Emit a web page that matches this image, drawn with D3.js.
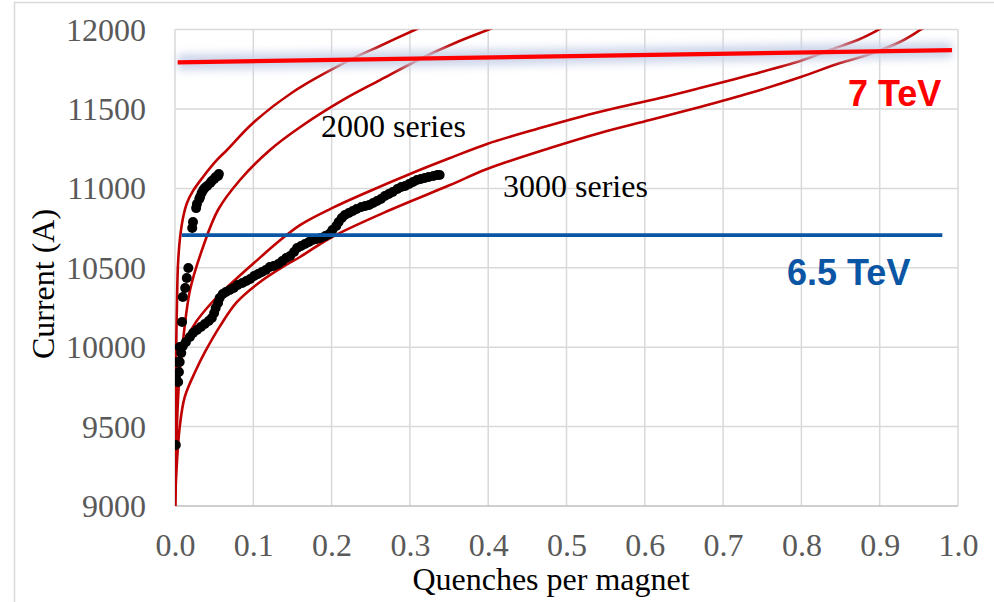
<!DOCTYPE html>
<meta charset="utf-8">
<style>
body { margin: 0; background: #fff; }
.tick text { font-family: "Liberation Serif", "Times New Roman", serif; font-size: 32px; fill: #595959; }
.title { font-family: "Liberation Serif", "Times New Roman", serif; font-size: 32px; fill: #000; }
.tev { font-family: "Liberation Sans", Arial, sans-serif; font-size: 36px; font-weight: bold; }
</style>
<body>
<script src="https://d3js.org/d3.v7.min.js"></script>
<script>
var width = 994, height = 602;
var margin = {left: 175, right: 36, top: 29.6, bottom: 96};

var xTicks = [0, 0.1, 0.2, 0.3, 0.4, 0.5, 0.6, 0.7, 0.8, 0.9, 1.0];
var yTicks = [9000, 9500, 10000, 10500, 11000, 11500, 12000];

// fitted curves, 2000 series (upper / lower)
var fit2000aX = [0, 0.0004, 0.0009, 0.0015, 0.0026, 0.0038, 0.0064, 0.0102, 0.0153, 0.0230, 0.0358, 0.0536, 0.0664, 0.0996, 0.1507, 0.2235, 0.2618, 0.3087, 0.33];
var fit2000aY = [9000, 9353, 9667, 9982, 10297, 10518, 10688, 10814, 10908, 10984, 11072, 11179, 11242, 11412, 11607, 11809, 11897, 12004, 12050];
var fit2000bX = [0, 0.0019, 0.0038, 0.0064, 0.0089, 0.0192, 0.0358, 0.0549, 0.0830, 0.1213, 0.1596, 0.2146, 0.2618, 0.3129, 0.3576, 0.4023, 0.42];
var fit2000bY = [9000, 9416, 9667, 9875, 9982, 10360, 10631, 10864, 11053, 11242, 11385, 11557, 11682, 11815, 11916, 12004, 12040];

// fitted curves, 3000 series (upper / lower)
var fit3000aX = [0, 0.0006, 0.0019, 0.0045, 0.0089, 0.0166, 0.0268, 0.0409, 0.0549, 0.0766, 0.1022, 0.1315, 0.1596, 0.1980, 0.2490, 0.3001, 0.3512, 0.3985, 0.4662, 0.5172, 0.5683, 0.6194, 0.6705, 0.7344, 0.7982, 0.8365, 0.8748, 0.9004, 0.9195];
var fit3000aY = [9000, 9353, 9667, 9856, 9982, 10070, 10159, 10247, 10322, 10423, 10536, 10662, 10769, 10870, 10984, 11091, 11191, 11280, 11380, 11450, 11512, 11569, 11632, 11714, 11802, 11871, 11941, 12004, 12054];
var fit3000bX = [0, 0.0019, 0.0060, 0.0124, 0.0268, 0.0383, 0.0575, 0.0792, 0.1086, 0.1392, 0.1596, 0.2005, 0.2746, 0.3512, 0.3985, 0.4789, 0.5428, 0.6066, 0.6705, 0.7344, 0.7982, 0.8493, 0.8876, 0.9259, 0.9540, 0.97];
var fit3000bY = [9000, 9227, 9497, 9686, 9856, 9970, 10133, 10285, 10411, 10511, 10568, 10694, 10864, 11021, 11122, 11254, 11349, 11430, 11512, 11600, 11700, 11789, 11846, 11922, 12004, 12050];

// measured quenches
var q2000X = [0.001, 0.001, 0.004, 0.003, 0.006, 0.009, 0.010, 0.013, 0.015, 0.017, 0.022, 0.023, 0.027, 0.028, 0.031, 0.032, 0.034, 0.036, 0.038, 0.041, 0.045, 0.047, 0.050, 0.052, 0.055, 0.056];
var q2000Y = [9384, 9806, 9781, 9907, 10001, 10159, 10316, 10373, 10436, 10499, 10751, 10788, 10876, 10902, 10933, 10946, 10971, 10990, 11002, 11015, 11034, 11047, 11059, 11072, 11078, 11091];
var q3000X = [0.001, 0.005, 0.006, 0.008, 0.010, 0.014, 0.019, 0.023, 0.028, 0.033, 0.038, 0.043, 0.047, 0.050, 0.052, 0.055, 0.057, 0.061, 0.065, 0.070, 0.075, 0.080, 0.086, 0.091, 0.096, 0.101, 0.106, 0.111, 0.116, 0.121, 0.126, 0.132, 0.137, 0.142, 0.147, 0.152, 0.156, 0.161, 0.166, 0.171, 0.176, 0.181, 0.186, 0.192, 0.197, 0.201, 0.206, 0.209, 0.213, 0.217, 0.222, 0.227, 0.232, 0.238, 0.243, 0.248, 0.253, 0.258, 0.263, 0.268, 0.273, 0.278, 0.284, 0.289, 0.294, 0.299, 0.304, 0.309, 0.314, 0.319, 0.324, 0.330, 0.335, 0.338];
var q3000Y = [9793, 9844, 9907, 9963, 10008, 10033, 10064, 10089, 10108, 10127, 10146, 10165, 10184, 10215, 10247, 10278, 10310, 10335, 10348, 10360, 10373, 10392, 10404, 10417, 10429, 10448, 10461, 10473, 10486, 10505, 10511, 10524, 10543, 10562, 10574, 10599, 10625, 10637, 10650, 10662, 10675, 10681, 10688, 10700, 10713, 10738, 10763, 10788, 10814, 10832, 10845, 10858, 10870, 10883, 10889, 10895, 10908, 10921, 10933, 10952, 10965, 10977, 10996, 11009, 11015, 11028, 11040, 11053, 11059, 11065, 11072, 11078, 11084, 11084];

// energy levels
var tev7X = [0.0034, 0.9923];
var tev7Y = [11794, 11871];
var tev65X = [0.0086, 0.98];
var tev65Y = [10706, 10706];

function zip(xs, ys) { return xs.map(function(d, i) { return [d, ys[i]]; }); }

var x = d3.scaleLinear().domain([0, 1]).range([margin.left, width - margin.right]);
var y = d3.scaleLinear().domain([9000, 12000]).range([height - margin.bottom, margin.top]);

var svg = d3.select("body").append("svg")
    .attr("width", width)
    .attr("height", height);

var defs = svg.append("defs");
defs.append("clipPath").attr("id", "plot")
  .append("rect")
    .attr("x", x(0)).attr("y", y(12000))
    .attr("width", x(1) - x(0)).attr("height", y(9000) - y(12000));
defs.append("filter").attr("id", "glow")
    .attr("x", "-5%").attr("y", "-400%").attr("width", "110%").attr("height", "900%")
  .append("feGaussianBlur").attr("stdDeviation", 4);

// outer chart frame
svg.append("rect")
    .attr("x", 14.5).attr("y", 2.5)
    .attr("width", 1000).attr("height", 700)
    .attr("fill", "none").attr("stroke", "#d9d9d9").attr("stroke-width", 1.5);

// grid
svg.append("g").selectAll("line").data(xTicks)
  .enter().append("line")
    .attr("x1", function(d) { return x(d); }).attr("x2", function(d) { return x(d); })
    .attr("y1", y(12000)).attr("y2", y(9000))
    .attr("stroke", "#d9d9d9").attr("stroke-width", 1.5);
svg.append("g").selectAll("line").data(yTicks)
  .enter().append("line")
    .attr("x1", x(0)).attr("x2", x(1))
    .attr("y1", function(d) { return y(d); }).attr("y2", function(d) { return y(d); })
    .attr("stroke", function(d) { return d === 9000 ? "#bfbfbf" : "#d9d9d9"; })
    .attr("stroke-width", 1.5);

// axes (labels only)
var yAxis = svg.append("g")
    .attr("transform", "translate(" + (x(0) - 29) + ",0)")
    .call(d3.axisLeft(y).tickValues(yTicks).tickSize(0).tickPadding(0).tickFormat(d3.format("d")));
yAxis.select(".domain").remove();
yAxis.selectAll(".tick text").attr("dy", "0.33em");

var xAxis = svg.append("g")
    .attr("transform", "translate(0," + (y(9000) + 27) + ")")
    .call(d3.axisBottom(x).tickValues(xTicks).tickSize(0).tickPadding(0).tickFormat(d3.format(".1f")));
xAxis.select(".domain").remove();
xAxis.selectAll(".tick text").attr("dy", "0.71em");

var line = d3.line()
    .x(function(d) { return x(d[0]); })
    .y(function(d) { return y(d[1]); })
    .curve(d3.curveCatmullRom.alpha(0.5));

var plot = svg.append("g").attr("clip-path", "url(#plot)");

[[fit2000aX, fit2000aY], [fit2000bX, fit2000bY], [fit3000aX, fit3000aY], [fit3000bX, fit3000bY]].forEach(function(f) {
  plot.append("path")
      .datum(zip(f[0], f[1]))
      .attr("d", line)
      .attr("fill", "none")
      .attr("stroke", "#c00000")
      .attr("stroke-width", 2.6);
});

plot.append("g").selectAll("circle")
    .data(zip(q2000X, q2000Y).concat(zip(q3000X, q3000Y)))
  .enter().append("circle")
    .attr("cx", function(d) { return x(d[0]); })
    .attr("cy", function(d) { return y(d[1]); })
    .attr("r", 5)
    .attr("fill", "#000");

// level lines with soft glow
var straight = d3.line().x(function(d) { return x(d[0]); }).y(function(d) { return y(d[1]); });
[[tev7X, tev7Y, "#ff0000", 4.2], [tev65X, tev65Y, "#0b56a4", 3.8]].forEach(function(l) {
  var pts = zip(l[0], l[1]);
  svg.append("path")
      .datum(pts)
      .attr("d", straight)
      .attr("fill", "none")
      .attr("stroke", "#c8d0e8")
      .attr("stroke-opacity", 0.9)
      .attr("stroke-width", 16)
      .attr("filter", "url(#glow)");
  svg.append("path")
      .datum(pts)
      .attr("d", straight)
      .attr("fill", "none")
      .attr("stroke", l[2])
      .attr("stroke-width", l[3]);
});

// annotations
svg.append("text").attr("class", "title").attr("x", 321).attr("y", 137).text("2000 series");
svg.append("text").attr("class", "title").attr("x", 503).attr("y", 197).text("3000 series");
svg.append("text").attr("class", "tev").attr("x", 848).attr("y", 106).attr("fill", "#ff0000").text("7 TeV");
svg.append("text").attr("class", "tev").attr("x", 787).attr("y", 285).attr("fill", "#0b56a4").text("6.5 TeV");

svg.append("text").attr("class", "title")
    .attr("text-anchor", "middle")
    .attr("transform", "translate(54,284)rotate(-90)")
    .text("Current (A)");
svg.append("text").attr("class", "title")
    .attr("text-anchor", "middle")
    .attr("x", 551).attr("y", 590)
    .text("Quenches per magnet");
</script>
